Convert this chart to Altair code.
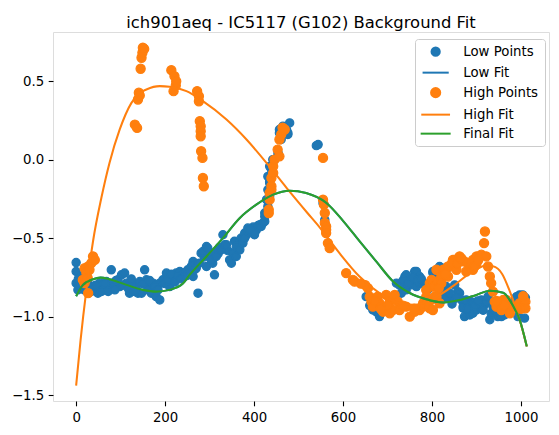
import altair as alt
import pandas as pd

# ---- scatter samples: low-order background points ----
low_x = [0, 0, 0, 4, 12, 15, 23, 30, 38, 49, 53, 60, 68, 75, 79, 83, 94, 98, 102, 109,
         113, 120, 128, 135, 139, 143, 147, 154, 158, 161, 161, 169, 173, 180, 188, 188, 195, 203, 210, 218,
         225, 233, 240, 251, 263, 263, 270, 270, 274, 263,
         5, 8, 18, 27, 34, 44, 57, 64, 72, 87, 90, 105, 117, 124, 131, 150, 165, 177, 184, 199,
         206, 214, 222, 229, 236, 244, 248, 256, 259, 267, 277, 288, 300, 307, 319, 322, 341, 356, 364, 383,
         394, 398, 405, 409,
         281, 285, 293, 293, 296, 304, 311, 315, 315, 326, 330, 334, 338, 345, 349, 352, 360, 360, 368, 371,
         375, 379, 379, 386, 386, 390, 401, 413, 416, 420, 424, 424, 424, 428, 431, 431, 435, 435, 435, 439,
         431, 435, 442, 446, 454, 454, 457, 457, 461, 461, 465, 473, 476, 476, 480,
         540, 544, 555, 559,
         652, 667, 682, 720, 739, 742, 742, 731, 750, 754, 761, 765, 765, 772, 772, 780, 802, 802, 806, 817,
         817, 821, 825, 825, 829, 832, 832, 832, 847, 851, 858, 862, 866, 870, 870, 873, 877, 885, 888, 892,
         892, 900, 907, 911, 918, 922, 926, 930, 937, 948, 952, 963, 982, 990, 993, 993, 997, 1004, 1008,
         660, 675, 727, 735, 746, 757, 768, 776, 785, 790, 810, 840, 845, 855, 880, 896, 903, 915, 933, 941,
         956, 970, 976, 986, 1000, 1010]
low_y = [-0.656, -0.713, -0.787, -0.830, -0.745, -0.809, -0.777, -0.809, -0.830, -0.851, -0.787, -0.819, -0.777, -0.809, -0.702, -0.787, -0.766, -0.809, -0.734, -0.723,
         -0.787, -0.851, -0.787, -0.819, -0.851, -0.777, -0.851, -0.702, -0.766, -0.809, -0.830, -0.851, -0.787, -0.873, -0.894, -0.787, -0.766, -0.723, -0.809, -0.745,
         -0.723, -0.713, -0.745, -0.702, -0.660, -0.649, -0.692, -0.671, -0.851, -0.745,
         -0.76, -0.80, -0.83, -0.79, -0.84, -0.80, -0.84, -0.79, -0.84, -0.83, -0.77, -0.80, -0.82, -0.76, -0.84, -0.79, -0.77, -0.81, -0.83, -0.79,
         -0.77, -0.73, -0.78, -0.74, -0.76, -0.72, -0.74, -0.71, -0.68, -0.70, -0.66, -0.62, -0.61, -0.66, -0.60, -0.56, -0.58, -0.52, -0.53, -0.48,
         -0.46, -0.43, -0.45, -0.42,
         -0.596, -0.586, -0.681, -0.554, -0.564, -0.639, -0.734, -0.596, -0.617, -0.575, -0.479, -0.543, -0.543, -0.639, -0.660, -0.596, -0.554, -0.617, -0.575, -0.500,
         -0.532, -0.468, -0.500, -0.458, -0.436, -0.447, -0.479, -0.415, -0.426, -0.404, -0.394, -0.340, -0.362, -0.255, -0.298, -0.192, -0.139, -0.234, -0.043, -0.064,
         -0.107, -0.149, 0.000, 0.000, 0.032, 0.043, 0.170, 0.192, 0.149, 0.128, 0.213, 0.192, 0.160, 0.170, 0.234,
         0.089, 0.096, -0.277, -0.383,
         -0.873, -0.958, -1.000, -0.787, -0.745, -0.734, -0.830, -0.851, -0.766, -0.798, -0.713, -0.713, -0.809, -0.745, -0.787, -0.787, -0.723, -0.713, -0.723, -0.702,
         -0.681, -0.830, -0.692, -0.873, -0.873, -0.702, -0.809, -0.883, -0.894, -0.798, -0.841, -0.851, -0.894, -0.937, -0.947, -1.000, -0.894, -0.990, -0.905, -0.915,
         -0.979, -0.958, -0.937, -0.894, -0.926, -0.905, -0.873, -1.020, -0.937, -1.000, -0.979, -0.990, -0.937, -0.873, -0.873, -1.000, -0.862, -0.862, -1.010,
         -0.93, -0.97, -0.80, -0.77, -0.79, -0.75, -0.77, -0.76, -0.80, -0.83, -0.74, -0.85, -0.92, -0.88, -0.95, -0.93, -0.90, -0.96, -0.98, -0.96,
         -1.00, -0.97, -0.93, -0.90, -0.90, -0.88]

# ---- scatter samples: upper envelope points ----
high_x = [15, 19, 19, 23, 26, 27, 27, 30, 34, 38, 42,
          132, 137, 139, 141, 143, 145, 147, 149, 150, 153,
          214, 219, 221, 224, 225, 272, 276, 276, 278, 280, 280, 280, 281, 284, 285, 287,
          433, 433, 435, 435, 439, 439, 439, 443, 443, 446, 453, 457, 457, 461, 464, 469,
          555, 555, 557, 559, 559, 562, 562, 562, 566, 570, 607, 622, 626, 656, 660, 664, 667, 678,
          682, 690, 697, 705, 705, 712, 716, 723, 727, 742, 750, 761, 772, 780, 780, 787, 787, 795, 795, 798,
          799, 802, 802, 806, 806, 810, 810, 813, 817, 821, 821, 825, 828, 836, 836, 840, 847, 851, 855, 862,
          873, 877, 885, 892, 892, 900, 900, 907, 911, 917, 919, 922, 926, 930, 933, 937, 941, 945, 948, 952,
          956, 960, 967, 975, 982, 997, 1010, 1010,
          845, 858, 866, 881, 888, 896, 904, 830, 815, 790, 760, 735, 700, 685, 672, 650, 640, 1000, 990, 1005,
          963, 945]
high_y = [-0.766, -0.692, -0.787, -0.723, -0.754, -0.681, -0.851, -0.702, -0.660, -0.617, -0.639,
          0.223, 0.202, 0.383, 0.426, 0.409, 0.579, 0.649, 0.681, 0.713, 0.705,
          0.570, 0.436, 0.532, 0.472, 0.500, 0.436, 0.404, 0.372, 0.245, 0.213, 0.181, 0.149, 0.053, 0.011, -0.117, -0.170,
          -0.319, -0.340, -0.213, -0.255, -0.117, -0.170, -0.192, -0.043, -0.085, 0.000, 0.064, 0.021, 0.128, 0.160, 0.204, 0.192,
          0.011, -0.255, -0.287, -0.340, -0.404, -0.426, -0.447, -0.468, -0.532, -0.564, -0.723, -0.766, -0.777, -0.819, -0.873, -0.905, -0.937, -0.873,
          -0.915, -0.969, -0.862, -0.905, -0.979, -0.958, -0.862, -0.905, -0.958, -0.937, -1.000, -0.969, -0.958, -0.937, -0.915, -0.830, -0.873, -0.787, -0.947, -0.894,
          -0.766, -0.958, -0.809, -0.809, -0.873, -0.873, -0.702, -0.777, -0.915, -0.745, -0.787, -0.702, -0.702, -0.681, -0.745, -0.681, -0.639, -0.639, -0.702, -0.617,
          -0.649, -0.713, -0.681, -0.639, -0.702, -0.660, -0.617, -0.617, -0.606, -0.532, -0.458, -0.617, -0.681, -0.745, -0.787, -0.841, -0.905, -0.937, -0.937, -0.915,
          -0.958, -0.894, -0.894, -0.979, -0.937, -0.915, -0.905, -0.947,
          -0.66, -0.66, -0.63, -0.66, -0.66, -0.68, -0.64, -0.73, -0.82, -0.90, -0.95, -0.93, -0.93, -0.95, -0.90, -0.80, -0.79, -0.95, -0.94, -0.87,
          -0.93, -0.90]

# ---- fitted curves, sampled along x ----
high_fit_x = [0, 10, 23, 38, 57, 75, 98, 124, 141, 158, 188, 210, 248, 285, 338, 383, 428, 473, 520, 547,
              592, 637, 682, 727, 760, 800, 850, 880, 900, 920, 937, 958, 975, 990, 1004, 1013]
high_fit_y = [-1.44, -1.15, -0.83, -0.52, -0.24, -0.021, 0.192, 0.36, 0.42, 0.447, 0.468, 0.464, 0.436, 0.372, 0.255, 0.128, -0.021, -0.18, -0.34, -0.43,
              -0.596, -0.745, -0.851, -0.915, -0.925, -0.89, -0.80, -0.735, -0.70, -0.675, -0.68, -0.73, -0.84, -0.96, -1.09, -1.19]

final_fit_x = [0, 15, 38, 55, 75, 113, 150, 180, 210, 240, 255, 293, 330, 368, 405, 443, 480, 517, 562, 600,
               637, 675, 712, 750, 787, 825, 862, 900, 930, 960, 982, 997, 1013]
final_fit_y = [-0.87, -0.80, -0.762, -0.752, -0.762, -0.798, -0.830, -0.841, -0.830, -0.79, -0.735, -0.617, -0.50, -0.372, -0.287, -0.223, -0.198, -0.213, -0.275, -0.39,
               -0.52, -0.65, -0.775, -0.85, -0.89, -0.91, -0.895, -0.862, -0.835, -0.848, -0.93, -1.02, -1.19]

# the low-point fit coincides with the final fit over the whole range
low_fit_x = final_fit_x
low_fit_y = final_fit_y

series_names = ["Low Points", "Low Fit", "High Points", "High Fit", "Final Fit"]
series_colors = ["#1f77b4", "#1f77b4", "#ff7f0e", "#ff7f0e", "#2ca02c"]
line_glyph = "M-3,0H3"
series_shapes = ["circle", line_glyph, "circle", line_glyph, line_glyph]
series_sizes = [68, 100, 68, 100, 100]

x_ticks = [0, 200, 400, 600, 800, 1000]
y_ticks = [-1.5, -1.0, -0.5, 0.0, 0.5]

FONT = "DejaVu Sans"

points = pd.DataFrame({
    "x": low_x + high_x,
    "y": low_y + high_y,
    "series": ["Low Points"] * len(low_x) + ["High Points"] * len(high_x),
})

x_scale = alt.Scale(domain=[-52, 1063], nice=False, zero=False)
y_scale = alt.Scale(domain=[-1.538, 0.813], nice=False, zero=False)

common_axis = dict(grid=False, domain=False, tickSize=4.8, tickWidth=1.1, tickColor="black",
                   labelColor="black", labelFont=FONT, labelFontSize=13.3, labelPadding=4.5,
                   labelFlush=False, labelOverlap=False, title=None)
x_axis = alt.Axis(values=x_ticks, format="d", **common_axis)
y_axis = alt.Axis(values=y_ticks, format=".1f", **common_axis)

legend = alt.Legend(title=None, orient="none", legendX=362, legendY=7,
                    labelFont=FONT, labelFontSize=13.3, labelColor="black",
                    labelOffset=21, symbolOffset=8, symbolStrokeWidth=2,
                    rowPadding=5, padding=6, cornerRadius=3,
                    strokeColor="#cccccc", fillColor="rgba(255,255,255,0.8)")

color_scale = alt.Scale(domain=series_names, range=series_colors)
shape_scale = alt.Scale(domain=series_names, range=series_shapes)
size_scale = alt.Scale(domain=series_names, range=series_sizes)

X = alt.X("x:Q", scale=x_scale, axis=x_axis)
Y = alt.Y("y:Q", scale=y_scale, axis=y_axis)

scatter = alt.Chart(points).mark_point(filled=True, opacity=1, strokeWidth=1.2).encode(
    x=X, y=Y,
    fill=alt.Fill("series:N", scale=color_scale, legend=legend),
    stroke=alt.Stroke("series:N", scale=color_scale, legend=legend),
    shape=alt.Shape("series:N", scale=shape_scale, legend=legend),
    size=alt.Size("series:N", scale=size_scale, legend=legend),
)


def fit_line(xs, ys, name):
    df = pd.DataFrame({"x": xs, "y": ys, "series": [name] * len(xs)})
    return alt.Chart(df).mark_line(strokeWidth=2.05, interpolate="monotone").encode(
        x=X, y=Y,
        stroke=alt.Stroke("series:N", scale=color_scale, legend=legend),
    )


chart = alt.layer(
    scatter,
    fit_line(low_fit_x, low_fit_y, "Low Fit"),
    fit_line(high_fit_x, high_fit_y, "High Fit"),
    fit_line(final_fit_x, final_fit_y, "Final Fit"),
).properties(
    width=496,
    height=369,
    padding={"left": 53, "top": 32, "right": 10, "bottom": 34},
    autosize=alt.AutoSizeParams(type="none"),
    title=alt.Title("ich901aeq - IC5117 (G102) Background Fit", font=FONT, fontSize=16.4,
                    fontWeight="normal", color="black", anchor="middle",
                    baseline="alphabetic", offset=-12),
).configure_view(stroke="black", strokeWidth=1.1).configure(background="white")

chart.save("out.html", embed_options={"renderer": "svg", "actions": False})
